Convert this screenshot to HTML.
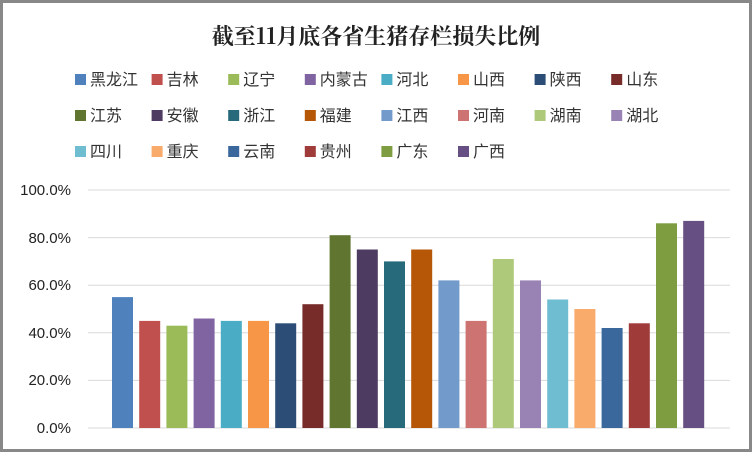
<!DOCTYPE html>
<html><head><meta charset="utf-8"><style>
body{margin:0;background:#fff}
svg{display:block;font-family:"Liberation Sans","Noto Sans CJK SC",sans-serif}
</style></head><body>
<svg width="752" height="452" viewBox="0 0 752 452">
<rect x="0" y="0" width="752" height="452" fill="#fff"/>
<rect x="1.5" y="1.5" width="749" height="449" fill="none" stroke="#888" stroke-width="3"/>
<text x="376" y="44" text-anchor="middle" font-size="22" font-weight="bold" fill="#222" font-family="'Noto Serif CJK SC','Noto Sans CJK SC',serif">截至11月底各省生猪存栏损失比例</text>
<g font-size="16" fill="#333">
<g id="lg"></g>
</g>
<g stroke="#d9d9d9" stroke-width="1">
<line x1="88" x2="730" y1="190" y2="190"/><line x1="88" x2="730" y1="237.6" y2="237.6"/>
<line x1="88" x2="730" y1="285.2" y2="285.2"/><line x1="88" x2="730" y1="332.8" y2="332.8"/>
<line x1="88" x2="730" y1="380.4" y2="380.4"/><line x1="88" x2="730" y1="428" y2="428"/>
</g>
<g font-size="15" fill="#222" text-anchor="end">
<text x="71" y="195">100.0%</text><text x="71" y="243">80.0%</text><text x="71" y="290">60.0%</text>
<text x="71" y="338">40.0%</text><text x="71" y="385">20.0%</text><text x="71" y="433">0.0%</text>
</g>
<g id="bars"></g>
</svg>
<script>
var names=["黑龙江","吉林","辽宁","内蒙古","河北","山西","陕西","山东","江苏","安徽","浙江","福建","江西","河南","湖南","湖北","四川","重庆","云南","贵州","广东","广西"];
var cols=["#4F81BD","#C0504D","#9BBB59","#8064A2","#4BACC6","#F79646","#2C4D75","#772C2A","#5F7530","#4D3B62","#276A7C","#B65708","#729ACA","#CD7371","#AFC97A","#9983B5","#6FBDD1","#F9AB6B","#3A679C","#9F3B38","#7E9D40","#664F82"];
var vals=[55,45,43,46,45,45,44,52,81,75,70,75,62,45,71,62,54,50,42,44,86,87];
var ns="http://www.w3.org/2000/svg",s="";
for(var i=0;i<22;i++){
 var c=i%8,r=Math.floor(i/8),x=75+c*76.6,y=80+r*36;
 s+='<rect x="'+x+'" y="'+(y-6)+'" width="11" height="11" fill="'+cols[i]+'"/>';
 s+='<text x="'+(x+15)+'" y="'+(y+5)+'">'+names[i]+'</text>';
}
document.getElementById("lg").innerHTML=s;
s="";
for(var i=0;i<22;i++){
 var h=vals[i]*2.38,x=112+i*27.2;
 s+='<rect x="'+x.toFixed(1)+'" y="'+(428-h).toFixed(1)+'" width="21" height="'+h.toFixed(1)+'" fill="'+cols[i]+'"/>';
}
document.getElementById("bars").innerHTML=s;
</script>
</body></html>
